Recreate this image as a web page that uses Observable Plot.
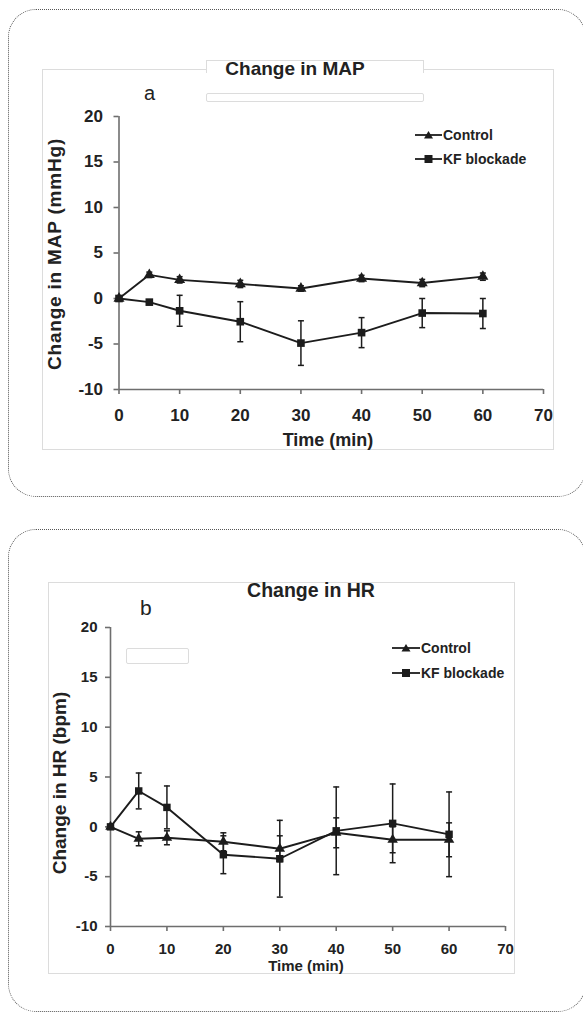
<!DOCTYPE html>
<html><head><meta charset="utf-8">
<script src="https://cdn.jsdelivr.net/npm/d3@7"></script>
<script src="https://cdn.jsdelivr.net/npm/@observablehq/plot@0.6"></script>
<style>
html,body{margin:0;padding:0;background:#fff}
body{width:583px;height:1014px;position:relative;overflow:hidden;font-family:"Liberation Sans",Arial,sans-serif;color:#222}
.abs{position:absolute}
.dotbox{position:absolute;border:1.5px dotted #555;border-radius:28px;box-sizing:border-box}
.frame{position:absolute;border:1px solid #dcdcdc;box-sizing:border-box}
.t{position:absolute;white-space:nowrap;font-weight:bold}
.ylab{position:absolute;white-space:nowrap;font-weight:bold;transform:translate(-50%,-50%) rotate(-90deg)}
.leg{position:absolute;display:flex;align-items:center;font-weight:bold;white-space:nowrap}
.leg svg{display:block}
</style>
</head><body>
<script>
// ---------- data ----------
const time = [0, 5, 10, 20, 30, 40, 50, 60];
const seriesNames = ["Control", "KF blockade"];
const xTicks = [0, 10, 20, 30, 40, 50, 60, 70];
const yTicks = [-10, -5, 0, 5, 10, 15, 20];

// (a) Change in MAP (mmHg)
const mapControl    = [0, 2.6, 2.05, 1.6, 1.1, 2.2, 1.7, 2.4];
const mapControlErr = [0, 0.3, 0.35, 0.4, 0.3, 0.35, 0.4, 0.4];
const mapKF         = [0, -0.4, -1.35, -2.55, -4.9, -3.75, -1.6, -1.65];
const mapKFErr      = [0, 0.15, 1.7, 2.2, 2.45, 1.65, 1.6, 1.65];

// (b) Change in HR (bpm)
const hrControl    = [0, -1.2, -1.1, -1.5, -2.2, -0.6, -1.3, -1.3];
const hrControlErr = [0, 0.7, 0.7, 0.9, 1.3, 1.5, 1.3, 1.7];
const hrKF         = [0, 3.6, 1.95, -2.8, -3.2, -0.4, 0.35, -0.75];
const hrKFErr      = [0, 1.8, 2.15, 1.9, 3.85, 4.4, 3.95, 4.25];

// ---------- helpers ----------
const capSymbol = {draw(ctx, size) { const r = Math.sqrt(size / Math.PI); ctx.moveTo(-r, 0); ctx.lineTo(r, 0); }};

function rows(vals, errs, name) {
  return time.map((t, i) => ({t, v: vals[i], e: errs[i], series: name}));
}

function el(tag, cls, css, text) {
  const e = document.createElement(tag);
  if (cls) e.className = cls;
  Object.assign(e.style, css || {});
  if (text != null) e.textContent = text;
  document.body.appendChild(e);
  return e;
}

function makePanel(o) {
  const ctrl = rows(o.control, o.controlErr, seriesNames[0]);
  const kf = rows(o.kf, o.kfErr, seriesNames[1]);
  const all = ctrl.concat(kf);
  const withErr = all.filter(d => d.e > 0);
  const caps = withErr.flatMap(d => [{t: d.t, y: d.v + d.e}, {t: d.t, y: d.v - d.e}]);
  const ink = "#1c1c1c";
  const svg = Plot.plot({
    width: o.width, height: o.height,
    marginTop: o.mt, marginRight: o.mr, marginBottom: o.mb, marginLeft: o.ml,
    x: {domain: [0, 70]},
    y: {domain: [-10, 20]},
    style: `font-family:'Liberation Sans',Arial,sans-serif;font-size:${o.fs}px;font-weight:bold;background:transparent;overflow:visible;color:#222`,
    marks: [
      Plot.ruleY([-10], {stroke: "#6e6e6e", strokeWidth: 1.6}),
      Plot.ruleX([0], {stroke: "#6e6e6e", strokeWidth: 1.6}),
      Plot.axisX({ticks: xTicks, tickSize: 5, tickPadding: o.xPad, stroke: "#6e6e6e", strokeWidth: 1.6, tickFormat: d => String(d), label: null}),
      Plot.axisY({ticks: yTicks, tickSize: 5, tickPadding: o.yPad, stroke: "#6e6e6e", strokeWidth: 1.6, tickFormat: d => String(d), label: null}),
      Plot.ruleX(withErr, {x: "t", y1: d => d.v - d.e, y2: d => d.v + d.e, stroke: ink, strokeWidth: 1.5}),
      Plot.dot(caps, {x: "t", y: "y", symbol: capSymbol, r: 3, stroke: ink, strokeWidth: 1.5, fill: "none"}),
      Plot.line(all, {x: "t", y: "v", z: "series", stroke: ink, strokeWidth: 1.9}),
      Plot.dot(ctrl, {x: "t", y: "v", symbol: "triangle", r: o.triR, fill: ink, stroke: "none"}),
      Plot.dot(kf, {x: "t", y: "v", symbol: "square", r: o.sqR, fill: ink, stroke: "none"})
    ]
  });
  const wrap = el("div", "abs", {left: o.left + "px", top: o.top + "px"});
  wrap.appendChild(svg);
  return svg;
}

function legendGlyph(kind, w) {
  const ns = "http://www.w3.org/2000/svg";
  const s = document.createElementNS(ns, "svg");
  s.setAttribute("width", w); s.setAttribute("height", 12);
  const line = document.createElementNS(ns, "line");
  line.setAttribute("x1", 0); line.setAttribute("x2", w); line.setAttribute("y1", 6); line.setAttribute("y2", 6);
  line.setAttribute("stroke", "#1c1c1c"); line.setAttribute("stroke-width", 1.8);
  s.appendChild(line);
  const p = document.createElementNS(ns, "path");
  const c = w / 2;
  p.setAttribute("d", kind === "tri" ? `M${c},2L${c+4.5},9.5L${c-4.5},9.5Z` : `M${c-4},2L${c+4},2L${c+4},10L${c-4},10Z`);
  p.setAttribute("fill", "#1c1c1c");
  s.appendChild(p);
  return s;
}

function legend(x, y1, y2, w, fs) {
  [[seriesNames[0], "tri", y1], [seriesNames[1], "sq", y2]].forEach(([name, kind, y]) => {
    const d = el("div", "leg", {left: x + "px", top: (y - 8) + "px", height: "16px", fontSize: fs + "px"});
    d.appendChild(legendGlyph(kind, w));
    const sp = document.createElement("span");
    sp.textContent = name; sp.style.marginLeft = "1px";
    d.appendChild(sp);
  });
}

// ---------- panel a ----------
el("div", "dotbox", {left: "8px", top: "9px", width: "578px", height: "488px"});
el("div", "frame", {left: "42px", top: "69px", width: "512px", height: "381px"});
el("div", "abs", {left: "206px", top: "60px", width: "218px", height: "13px", background: "#fff",
  border: "1px solid #dcdcdc", borderBottom: "none", boxSizing: "border-box"});
el("div", "abs", {left: "206px", top: "93px", width: "218px", height: "9px",
  border: "1px solid #dcdcdc", borderRadius: "2px", boxSizing: "border-box"});
el("div", "t", {left: "95px", width: "400px", textAlign: "center", top: "58px", fontSize: "19px", lineHeight: "22px"}, "Change in MAP");
el("div", "abs", {left: "144px", top: "81px", fontSize: "20px", lineHeight: "24px"}, "a");

makePanel({
  control: mapControl, controlErr: mapControlErr, kf: mapKF, kfErr: mapKFErr,
  left: 0, top: 0, width: 583, height: 500,
  mt: 116, mr: 40, mb: 111, ml: 118.5,
  fs: 17, xPad: 14, yPad: 11, triR: 4.1, sqR: 4.3
});
el("div", "ylab", {left: "55px", top: "254px", fontSize: "19px", lineHeight: "20px", letterSpacing: "0.8px"}, "Change in MAP (mmHg)");
el("div", "t", {left: "128px", width: "400px", textAlign: "center", top: "429px", fontSize: "18px", lineHeight: "22px"}, "Time (min)");
legend(415, 135, 159, 27, 14);

// ---------- panel b ----------
el("div", "dotbox", {left: "8px", top: "529px", width: "578px", height: "483px"});
el("div", "frame", {left: "48px", top: "582px", width: "467px", height: "392px"});
el("div", "abs", {left: "126px", top: "648px", width: "63px", height: "16px",
  border: "1px solid #dcdcdc", borderRadius: "2px", boxSizing: "border-box"});
el("div", "t", {left: "111px", width: "400px", textAlign: "center", top: "579px", fontSize: "19.5px", lineHeight: "22px"}, "Change in HR");
el("div", "abs", {left: "140px", top: "596px", fontSize: "21px", lineHeight: "24px"}, "b");

makePanel({
  control: hrControl, controlErr: hrControlErr, kf: hrKF, kfErr: hrKFErr,
  left: 0, top: 520, width: 583, height: 480,
  mt: 107, mr: 78, mb: 74, ml: 110,
  fs: 15, xPad: 11.5, yPad: 8, triR: 3.9, sqR: 4.2
});
el("div", "ylab", {left: "60px", top: "783px", fontSize: "19px", lineHeight: "22px"}, "Change in HR (bpm)");
el("div", "t", {left: "106px", width: "400px", textAlign: "center", top: "957px", fontSize: "15px", lineHeight: "18px"}, "Time (min)");
legend(392, 648, 673, 28, 14);
</script>
</body></html>
